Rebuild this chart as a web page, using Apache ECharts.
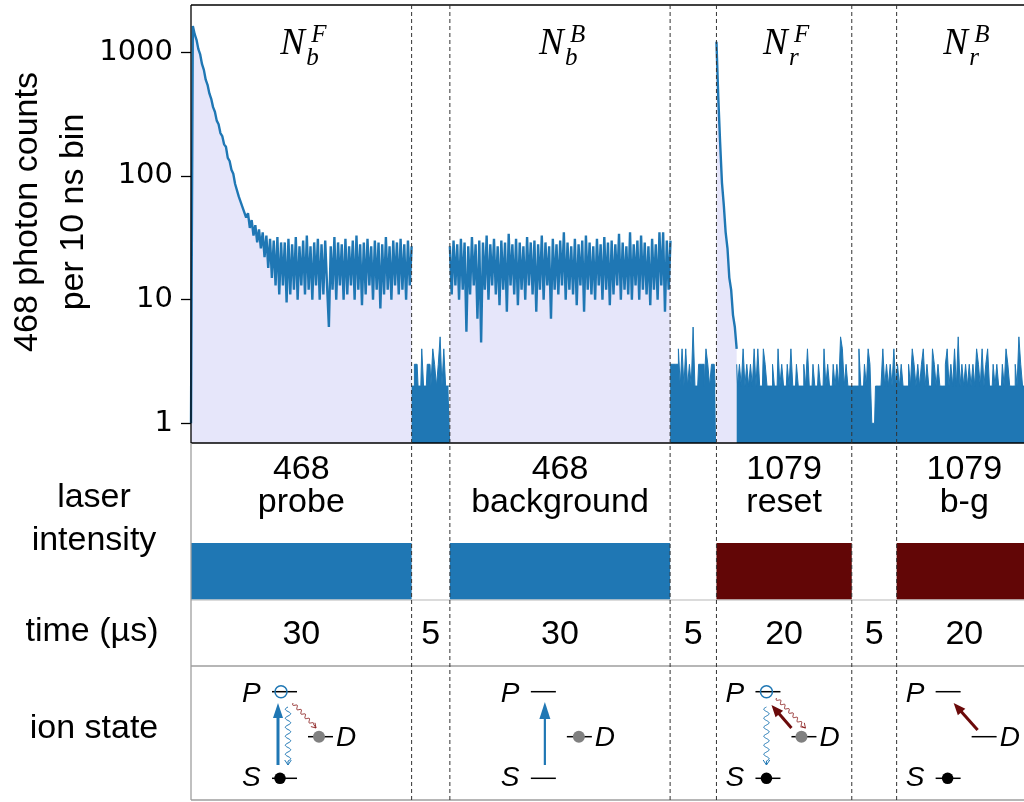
<!DOCTYPE html>
<html>
<head>
<meta charset="utf-8">
<script src="https://cdn.jsdelivr.net/npm/echarts@6/dist/echarts.min.js"></script>
<style>
html, body { margin: 0; padding: 0; background: #fff; }
#chart { width: 1024px; height: 802px; }
</style>
</head>
<body>
<div id="chart"></div>
<script>
// Pulse sequence windows (µs): probe | gap | background | gap | reset | gap | b-g
const segEdges = [0, 30, 35.2, 65.15, 71.45, 89.85, 95.95, 114.35];
const segLaser = ['468', '', '468', '', '1079', '', '1079'];
const segNames = ['probe', '', 'background', '', 'reset', '', 'b-g'];
const segTimes = ['30', '5', '30', '5', '20', '5', '20'];
const segState = ['probe', null, 'background', null, 'reset', null, 'bg'];
// integration window labels: N_sub^sup, one per laser window
const windowSeg = [0, 2, 4, 6];
const windowSub = ['b', 'b', 'r', 'r'];
const windowSup = ['F', 'B', 'F', 'B'];
// laser on-windows: [segment index, laser (0 = 468, 1 = 1079)]
const laserSeg = [0, 2, 4, 6];
const laserKind = [0, 0, 1, 1];

// photon counts per 10 ns bin, one plotted point every binStep µs
const binStep = 0.25;
const probeCounts = [
  1, 1630, 1400, 1260, 1060, 960, 800, 720, 600, 545,
  465, 420, 360, 330, 280, 262, 222, 210, 180, 172,
  140, 132, 112, 104, 86, 84, 68, 70, 56, 58,
  46, 50, 38, 44, 33, 40, 29, 37, 26, 35,
  22, 33, 18, 31, 15, 30, 13, 32, 11, 29,
  13, 29, 9.5, 31, 11, 28, 12, 32, 10, 27,
  13, 30, 11, 33, 12, 27, 10, 29, 13, 31,
  10, 28, 11, 30, 13, 6, 27, 12, 32, 10,
  29, 13, 28, 10, 31, 11, 27, 13, 30, 10,
  33, 12, 28, 9, 29, 11, 31, 13, 27, 10,
  30, 12, 29, 8.5, 28, 11, 32, 12, 27, 10,
  30, 13, 29, 11, 31, 12, 28, 10, 30, 13,
  27
];
const gap1Counts = [2, 2, 3, 3, 2, 2, 4, 2, 2, 3, 3, 2, 4, 3, 2, 3, 5, 2, 4, 2, 2, 2];
const backgroundCounts = [
  27, 11, 30, 13, 28, 10, 31, 12, 29, 5.5,
  27, 11, 32, 13, 28, 7, 30, 4.5, 29, 12,
  33, 10, 28, 13, 31, 11, 27, 9, 30, 12,
  29, 8, 34, 13, 28, 11, 31, 9, 29, 12,
  27, 10, 32, 13, 29, 11, 30, 8, 28, 12,
  33, 10, 29, 13, 27, 7, 31, 12, 28, 11,
  30, 13, 35, 10, 29, 12, 27, 11, 31, 9,
  28, 13, 30, 8, 33, 12, 29, 11, 27, 10,
  31, 13, 28, 10, 32, 12, 29, 9, 30, 11,
  28, 13, 34, 10, 29, 12, 27, 11, 35, 10,
  28, 13, 30, 10, 33, 12, 29, 11, 27, 9,
  31, 12, 28, 10, 35, 13, 35, 8, 30, 12,
  30
];
const gap2Counts = [3, 3, 3, 3, 3, 4, 2, 4, 2, 4, 2, 3, 2, 6, 2, 2, 3, 3, 3, 2, 4, 3, 2, 3, 3, 2];
const resetCounts = [1217, 430, 185, 88, 58, 35, 26, 15, 12, 7.5, 6, 4];
const tailCounts = [
  3, 2, 3, 2, 4, 2, 3, 2, 3, 2,
  4, 2, 4, 2, 2, 4, 3, 2, 2, 2,
  3, 2, 2, 4, 2, 3, 2, 2, 3, 2,
  4, 2, 2, 3, 2, 2, 2, 3, 2, 4,
  2, 2, 3, 2, 2, 3, 2, 2, 4, 2,
  3, 2, 2, 3, 2, 3, 2, 5, 4, 2,
  3, 2, 2, 2, 2, 2, 2, 4, 2, 2,
  3, 2, 4, 3, 1, 1, 2, 2, 2, 2,
  4, 2, 3, 2, 3, 2, 4, 2, 3, 2,
  3, 2, 2, 2, 3, 2, 4, 3, 2, 3,
  2, 3, 4, 2, 3, 2, 2, 4, 3, 2,
  3, 2, 2, 2, 3, 4, 2, 3, 2, 4,
  2, 5, 2, 3, 2, 3, 2, 3, 2, 3,
  2, 4, 3, 2, 4, 2, 3, 4, 2, 2,
  3, 2, 3, 2, 2, 3, 2, 4, 3, 2,
  2, 2, 3, 2, 5, 3, 2, 2
];
const yTicks = [1, 10, 100, 1000];

const BLUE = '#1f77b4';
const LAVENDER = '#e6e6fa';
const DARKRED = '#620606';
const SANS = '"Liberation Sans", Arial, sans-serif';
const SERIF = '"Liberation Serif", "Times New Roman", serif';

const X_MAX = 113.27;
const PLOT_TOP = 5, PLOT_BOTTOM = 443, PLOT_LEFT = 191, FIG_RIGHT = 1024;
const TABLE_BOTTOM = 800;

function toPoints(start, counts) {
  return counts.map((v, i) => [start + i * binStep, v]);
}

function traceSeries(name, start, counts) {
  return {
    type: 'line', name: name, xAxisIndex: 0, yAxisIndex: 0,
    data: toPoints(start, counts), symbol: 'none', silent: true,
    lineStyle: { color: BLUE, width: 2.4 },
    areaStyle: { color: LAVENDER, opacity: 1, origin: 'start' },
    z: 2
  };
}
function lowSeries(name, start, counts) {
  return {
    type: 'line', name: name, xAxisIndex: 0, yAxisIndex: 0, step: 'middle',
    data: toPoints(start, counts), symbol: 'none', silent: true,
    lineStyle: { color: BLUE, width: 1 },
    areaStyle: { color: BLUE, opacity: 1, origin: 'start' },
    z: 3
  };
}

const tailStart = segEdges[4] + (resetCounts.length - 1) * binStep;

const chart = echarts.init(document.getElementById('chart'), null, { renderer: 'canvas' });

chart.setOption({
  animation: false,
  backgroundColor: '#fff',
  grid: [
    { left: PLOT_LEFT, right: -2, top: PLOT_TOP, height: PLOT_BOTTOM - PLOT_TOP },
    { left: PLOT_LEFT, right: -2, top: 543, height: 57 }
  ],
  xAxis: [
    { type: 'value', gridIndex: 0, min: 0, max: X_MAX, show: false },
    { type: 'value', gridIndex: 1, min: 0, max: X_MAX, show: false }
  ],
  yAxis: [
    {
      type: 'log', gridIndex: 0, logBase: 10, min: 0.693, max: 2410,
      axisLine: { show: false },
      axisTick: { show: true, length: 10, lineStyle: { color: '#000', width: 1.3 }, customValues: yTicks },
      axisLabel: {
        customValues: yTicks, margin: 18, color: '#000',
        fontFamily: '"DejaVu Sans"', fontSize: 29,
        formatter: v => String(Math.round(v))
      },
      splitLine: { show: false }, minorTick: { show: false }
    },
    { type: 'value', gridIndex: 1, min: 0, max: 1, show: false }
  ],
  series: [
    traceSeries('probe', segEdges[0], probeCounts),
    lowSeries('gap1', segEdges[1], gap1Counts),
    traceSeries('background', segEdges[2], backgroundCounts),
    lowSeries('gap2', segEdges[3], gap2Counts),
    traceSeries('reset', segEdges[4], resetCounts),
    lowSeries('tail', tailStart, tailCounts),
    {
      type: 'custom', xAxisIndex: 1, yAxisIndex: 1, silent: true,
      data: laserSeg.map((s, i) => [segEdges[s], segEdges[s + 1], laserKind[i]]),
      renderItem: function (params, api) {
        const p0 = api.coord([api.value(0), 1]);
        const p1 = api.coord([api.value(1), 0]);
        return {
          type: 'rect',
          shape: { x: p0[0], y: p0[1], width: p1[0] - p0[0], height: p1[1] - p0[1] },
          style: { fill: api.value(2) === 0 ? BLUE : DARKRED }
        };
      }
    }
  ]
});

// ---------- overlay drawing helpers ----------
const px = v => chart.convertToPixel({ xAxisIndex: 0 }, v);
const G = [];

function txt(text, x, y, font, align, extra) {
  G.push(Object.assign({
    type: 'text', x: x, y: y, z: 100, silent: true,
    style: {
      text: text, font: font, fill: '#000',
      align: align || 'center', verticalAlign: 'middle',
      textAlign: align || 'center', textVerticalAlign: 'middle'
    }
  }, extra || {}));
}
function seg(x1, y1, x2, y2, color, width, dash) {
  G.push({
    type: 'line', z: 100, silent: true,
    shape: { x1: x1, y1: y1, x2: x2, y2: y2 },
    style: { stroke: color, lineWidth: width, lineDash: dash || null }
  });
}
function dot(cx, cy, r, fill, stroke) {
  G.push({
    type: 'circle', z: 101, silent: true,
    shape: { cx: cx, cy: cy, r: r },
    style: stroke ? { fill: 'none', stroke: stroke, lineWidth: 1.5 } : { fill: fill }
  });
}
function solidArrow(x1, y1, x2, y2, color, width, hl, hw) {
  const L = Math.hypot(x2 - x1, y2 - y1), ux = (x2 - x1) / L, uy = (y2 - y1) / L;
  const nx = -uy, ny = ux;
  const bx = x2 - ux * hl, by = y2 - uy * hl;
  seg(x1, y1, bx + ux, by + uy, color, width);
  G.push({
    type: 'polygon', z: 101, silent: true,
    shape: { points: [[x2, y2], [bx + nx * hw, by + ny * hw], [bx - nx * hw, by - ny * hw]] },
    style: { fill: color }
  });
}
function wavyArrow(x1, y1, x2, y2, color, width, amp, wl, hl, hw) {
  const L = Math.hypot(x2 - x1, y2 - y1), ux = (x2 - x1) / L, uy = (y2 - y1) / L;
  const nx = -uy, ny = ux;
  const pts = [];
  for (let s = 0; s <= L - 4; s += 0.5) {
    const o = amp * Math.sin(2 * Math.PI * s / wl);
    pts.push([x1 + ux * s + nx * o, y1 + uy * s + ny * o]);
  }
  pts.push([x2, y2]);
  G.push({ type: 'polyline', z: 100, silent: true, shape: { points: pts }, style: { stroke: color, lineWidth: width, fill: null } });
  const bx = x2 - ux * hl, by = y2 - uy * hl;
  G.push({
    type: 'polyline', z: 100, silent: true,
    shape: { points: [[bx + nx * hw, by + ny * hw], [x2, y2], [bx - nx * hw, by - ny * hw]] },
    style: { stroke: color, lineWidth: width, fill: null }
  });
}

// ---------- frame of the trace panel ----------
seg(PLOT_LEFT, PLOT_TOP, FIG_RIGHT, PLOT_TOP, '#000', 1.3);
seg(PLOT_LEFT, PLOT_TOP, PLOT_LEFT, PLOT_BOTTOM, '#000', 1.3);
seg(PLOT_LEFT, PLOT_BOTTOM, FIG_RIGHT, PLOT_BOTTOM, '#000', 1.6);

// ---------- table rules ----------
seg(PLOT_LEFT, 600, FIG_RIGHT, 600, '#cfcfcf', 1.5);
seg(PLOT_LEFT, 666, FIG_RIGHT, 666, '#9e9e9e', 1.3);
seg(PLOT_LEFT, TABLE_BOTTOM, FIG_RIGHT, TABLE_BOTTOM, '#9e9e9e', 1.3);
seg(PLOT_LEFT, PLOT_BOTTOM, PLOT_LEFT, TABLE_BOTTOM, '#9e9e9e', 1.3);

// ---------- window boundaries ----------
for (let i = 1; i < segEdges.length - 1; i++) {
  const x = px(segEdges[i]);
  seg(x, PLOT_TOP, x, TABLE_BOTTOM, '#333', 1, [4, 3]);
}

// ---------- axis title ----------
txt('468 photon counts', 27.5, 212, '34px ' + SANS, 'center', { rotation: Math.PI / 2 });
txt('per 10 ns bin', 73.5, 212, '34px ' + SANS, 'center', { rotation: Math.PI / 2 });

// ---------- row headers ----------
txt('laser', 94, 498, '34px ' + SANS);
txt('intensity', 94, 541, '34px ' + SANS);
txt('time (µs)', 92, 632, '34px ' + SANS);
txt('ion state', 94, 729, '34px ' + SANS);

// ---------- per-segment texts ----------
for (let i = 0; i < segTimes.length; i++) {
  const c = px((segEdges[i] + segEdges[i + 1]) / 2);
  if (segLaser[i]) {
    txt(segLaser[i], c, 470, '34px ' + SANS);
    txt(segNames[i], c, 503, '34px ' + SANS);
  }
  txt(segTimes[i], c, 635, '34px ' + SANS);
}

// ---------- integration window labels ----------
windowSeg.forEach((s, i) => {
  const c = px((segEdges[s] + segEdges[s + 1]) / 2);
  txt('N', c - 21, 44, 'italic 37px ' + SERIF, 'left');
  txt(windowSub[i], c + 5, 58, 'italic 25px ' + SERIF, 'left');
  txt(windowSup[i], c + 10, 35, 'italic 25px ' + SERIF, 'left');
});

// ---------- ion-state level diagrams ----------
const yP = 691.7, yS = 778.3, yD = 736.7;
function levels(a) {
  txt('P', a - 1, 694, 'italic 28px ' + SANS, 'left');
  txt('S', a - 1, 778, 'italic 28px ' + SANS, 'left');
  txt('D', a + 93, 738, 'italic 28px ' + SANS, 'left');
  seg(a + 29, yP, a + 54, yP, '#000', 1.5);
  seg(a + 29, yS, a + 54, yS, '#000', 1.5);
  seg(a + 65, yD, a + 90, yD, '#000', 1.5);
}
segState.forEach((st, i) => {
  if (!st) return;
  const left = px(segEdges[i]);
  const a = (st === 'probe' || st === 'background') ? left + 52 : left + 10;
  levels(a);
  if (st === 'probe') {
    dot(a + 38, yP, 6, null, BLUE);
    dot(a + 37, yS, 5.8, '#000');
    dot(a + 76, yD, 6, '#808080');
    solidArrow(a + 35, 765, a + 35, 703, BLUE, 3, 15, 5);
    wavyArrow(a + 45, 707, a + 45, 765, BLUE, 1, 2.7, 9, 5, 3.3);
    wavyArrow(a + 50, 703, a + 73, 728, '#8b2020', 0.9, 1.6, 6, 4.5, 2.8);
  } else if (st === 'background') {
    dot(a + 77, yD, 6, '#808080');
    solidArrow(a + 43, 765, a + 43, 702, BLUE, 2.2, 17, 5.5);
  } else if (st === 'reset') {
    dot(a + 40, yP, 6, null, BLUE);
    dot(a + 40, yS, 5.8, '#000');
    dot(a + 75, yD, 6, '#808080');
    wavyArrow(a + 40, 707, a + 40, 765, BLUE, 1, 2.7, 9, 5, 3.3);
    solidArrow(a + 65, 728, a + 45, 705, '#6b0a0a', 3, 12, 5);
    wavyArrow(a + 50, 698, a + 79, 728, '#8b2020', 0.9, 1.6, 6, 4.5, 2.8);
  } else {
    dot(a + 41, yS, 5.8, '#000');
    solidArrow(a + 71, 730, a + 47, 703, '#6b0a0a', 3, 12, 5);
  }
});

chart.setOption({ graphic: { elements: G } });
</script>
</body>
</html>
